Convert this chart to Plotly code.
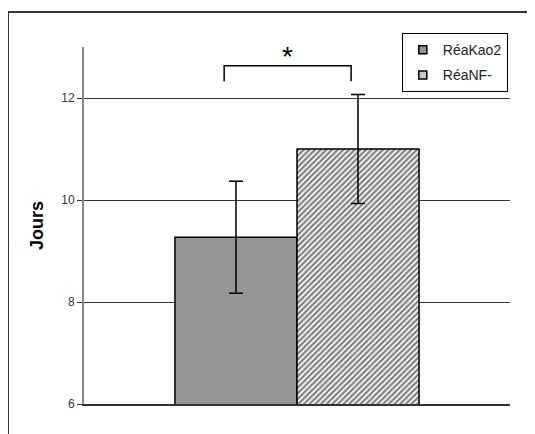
import plotly.graph_objects as go

series = ["RéaKao2", "RéaNF-"]
means = [9.27, 11.0]
errors = [1.1, 1.07]
category = ["Groupe"]
y_ticks = [6, 8, 10, 12]
y_title = "Jours"
sig_label = "*"

FONT = "Liberation Sans, Arial, sans-serif"
L, T, PW, PH = 76, 39, 426, 357

fig = go.Figure()
fig.add_trace(go.Bar(
    name=series[0], x=category, y=[means[0]], showlegend=False,
    marker=dict(color="#969696", line=dict(color="black", width=1.5)),
    error_y=dict(type="data", array=[errors[0]], color="black", thickness=1.5, width=7),
))
fig.add_trace(go.Bar(
    name=series[1], x=category, y=[means[1]], showlegend=False,
    marker=dict(color="white", line=dict(color="black", width=1.5),
                pattern=dict(shape="/", fgcolor="black", bgcolor="white", size=4, solidity=0.55)),
    error_y=dict(type="data", array=[errors[1]], color="black", thickness=1.5, width=7),
))
# legend entries (small square keys)
fig.add_trace(go.Scatter(name=series[0], x=[None], y=[None], mode="markers", legendgroup="a",
                         marker=dict(symbol="square", size=8, color="#969696",
                                     line=dict(color="black", width=1.5))))
fig.add_trace(go.Scatter(name=series[1], x=[None], y=[None], mode="markers", legendgroup="b",
                         marker=dict(symbol="square", size=8, color="#c8c8c8",
                                     line=dict(color="black", width=1.5))))

# significance bracket
bx0, bx1, by_top, by_bot = 0.329, 0.627, 12.63, 12.33
fig.add_shape(type="path", xref="paper", yref="y",
              path=f"M {bx0} {by_bot} L {bx0} {by_top} L {bx1} {by_top} L {bx1} {by_bot}",
              line=dict(color="black", width=1.5))
fig.add_annotation(x=(bx0 + bx1) / 2, y=by_top, xref="paper", yref="y", text=sig_label,
                   showarrow=False, yanchor="bottom", yshift=-8,
                   font=dict(size=28, family=FONT, color="black"))

# outer frame
fig.add_shape(type="rect", xref="paper", yref="paper",
              x0=(0 - L) / PW, x1=1.3, y0=-0.3, y1=(T + PH - 4) / PH,
              line=dict(color="#333333", width=2), fillcolor="rgba(0,0,0,0)", layer="below")

fig.update_layout(
    width=535, height=434,
    margin=dict(l=L, r=535 - L - PW, t=T, b=434 - T - PH),
    paper_bgcolor="white", plot_bgcolor="white",
    barmode="group", bargap=0.427, bargroupgap=0,
    font=dict(family=FONT, size=12, color="#222222"),
    showlegend=True,
    legend=dict(x=0.746, y=1.039, xanchor="left", yanchor="top",
                bordercolor="black", borderwidth=1, bgcolor="white",
                font=dict(size=14, color="#222222", family=FONT),
                tracegroupgap=4, itemwidth=30),
    xaxis=dict(showticklabels=False, ticks="", showline=True, linecolor="#333333",
               linewidth=1.5, showgrid=False),
    yaxis=dict(range=[6, 13], tickvals=y_ticks, ticks="outside", ticklen=5,
               tickcolor="#333333", showline=True, linecolor="#888888", linewidth=2,
               showgrid=True, gridcolor="#333333", gridwidth=1, zeroline=False,
               tickfont=dict(size=12, color="#333333"),
               title=dict(text=f"<b>{y_title}</b>", font=dict(size=18, color="black"),
                          standoff=13)),
)

fig.write_html("out.html")
